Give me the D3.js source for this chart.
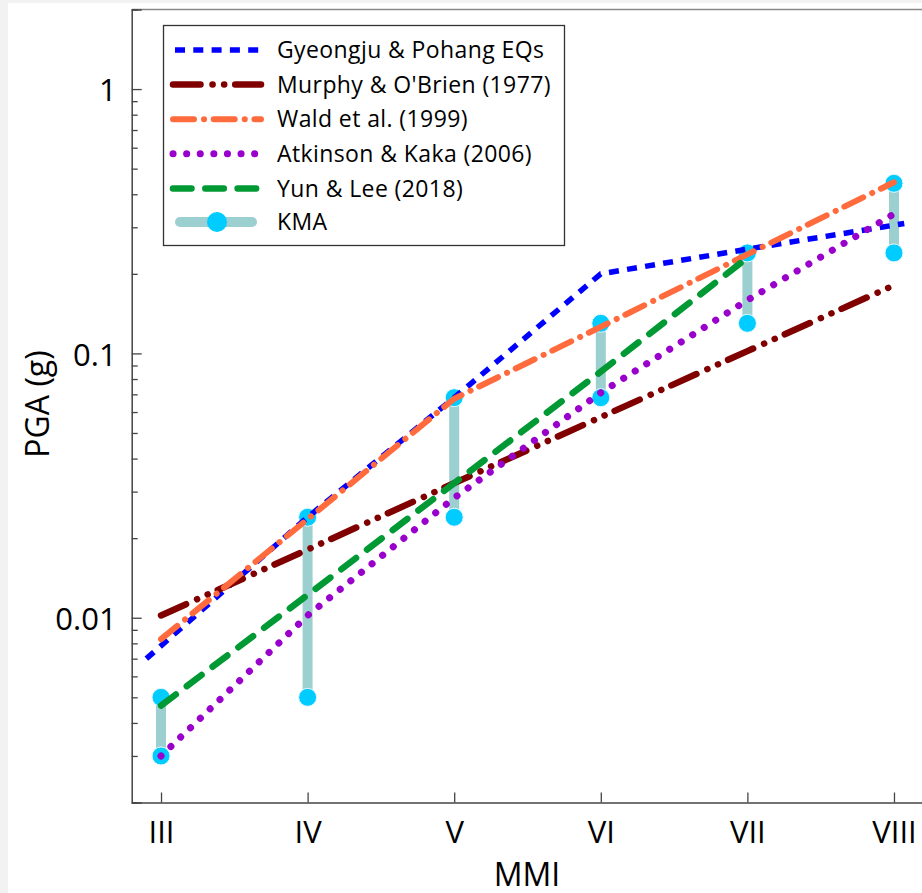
<!DOCTYPE html>
<html>
<head>
<meta charset="utf-8">
<script src="https://cdn.jsdelivr.net/npm/d3@7"></script>
<style>
  body { margin: 0; background: #f2f2f2; }
  text { font-family: "Open Sans", "Noto Sans", sans-serif; fill: #000; }
</style>
</head>
<body>
<div id="chart"></div>
<script>
// MMI categories
const mmiLabels = ["III", "IV", "V", "VI", "VII", "VIII"];
const mmiValues = [3, 4, 5, 6, 7, 8];

// PGA (g)
const gyeongjuMMI = [2.9, 4, 5, 6, 7, 8.07];
const gyeongjuPGA = [0.0070, 0.024, 0.068, 0.20, 0.248, 0.31];
const murphyPGA   = [0.0102, 0.0181, 0.0323, 0.0574, 0.102, 0.181];
const waldPGA     = [0.0083, 0.0236, 0.0674, 0.126, 0.237, 0.444];
const atkinsonPGA = [0.0030, 0.0102, 0.0284, 0.071, 0.159, 0.337];
const yunMMI      = [3, 4, 5, 6, 7];
const yunPGA      = [0.00465, 0.0122, 0.0323, 0.0853, 0.23];
// KMA ranges, lower and upper bound per MMI
const kmaLow  = [0.003, 0.005, 0.024, 0.068, 0.13, 0.24];
const kmaHigh = [0.005, 0.024, 0.068, 0.13, 0.24, 0.44];

const yMajor = [0.01, 0.1, 1];

const W = 922, H = 893;

const svg = d3.select("#chart")
  .append("svg")
  .attr("width", W)
  .attr("height", H);

// white sheet, light grey edge left/top like the screenshot
svg.append("rect").attr("width", W).attr("height", H).attr("fill", "#f2f2f2");
svg.append("rect").attr("x", 8).attr("y", 3).attr("width", W - 8).attr("height", H - 3).attr("fill", "#fff");

const x = d3.scaleLinear()
  .domain([2.8, 8.2])
  .range([131.7, 923.3]);

const y = d3.scaleLog()
  .domain([0.002, 2])
  .range([802.5, 9.5]);

// minor ticks 2..9 x 10^k
const minor = [];
[0.001, 0.01, 0.1, 1].forEach(p => {
  for (let k = 2; k <= 9; k++) {
    const v = +(k * p).toPrecision(3);
    if (v >= 0.002 && v <= 2) minor.push(v);
  }
});

// top frame line
svg.append("line")
  .attr("x1", x.range()[0]).attr("x2", W)
  .attr("y1", y(2)).attr("y2", y(2))
  .attr("stroke", "#888").attr("stroke-width", 1.5);

// axes
const yAxis = svg.append("g")
  .attr("transform", `translate(${x.range()[0]},0)`)
  .call(d3.axisLeft(y).tickValues(yMajor).tickSize(-10).tickPadding(15)
        .tickFormat(d => String(d)));
yAxis.selectAll("text").attr("font-size", 31).attr("dy", "0.38em");

svg.append("g")
  .attr("transform", `translate(${x.range()[0]},0)`)
  .call(d3.axisLeft(y).tickValues(minor).tickSize(-6).tickFormat(""))
  .select(".domain").remove();

const xAxis = svg.append("g")
  .attr("transform", `translate(0,${y.range()[0]})`)
  .call(d3.axisBottom(x).tickValues(mmiValues).tickSize(-10).tickSizeOuter(0).tickPadding(18)
        .tickFormat((d, i) => mmiLabels[i]));
xAxis.selectAll("text").attr("font-size", 31);

svg.selectAll(".domain").attr("stroke", "#444").attr("stroke-width", 1.5);
svg.selectAll(".tick line").attr("stroke", "#444").attr("stroke-width", 1.3);

// axis titles
svg.append("text")
  .attr("x", 527).attr("y", 886)
  .attr("text-anchor", "middle")
  .attr("font-size", 32)
  .text("MMI");

svg.append("text")
  .attr("transform", "translate(49,404) rotate(-90)")
  .attr("text-anchor", "middle")
  .attr("font-size", 32)
  .text("PGA (g)");

// KMA bars and circles
const kmaBar = "#9ccfcf", kmaDot = "#00ccff";
svg.append("g")
  .selectAll("line")
  .data(mmiValues)
  .join("line")
    .attr("x1", d => x(d)).attr("x2", d => x(d))
    .attr("y1", (d, i) => y(kmaLow[i]))
    .attr("y2", (d, i) => y(kmaHigh[i]))
    .attr("stroke", kmaBar)
    .attr("stroke-width", 10);

const kmaPts = [];
mmiValues.forEach((m, i) => {
  kmaPts.push({m: m, v: kmaLow[i]});
  kmaPts.push({m: m, v: kmaHigh[i]});
});
svg.append("g")
  .selectAll("circle")
  .data(kmaPts)
  .join("circle")
    .attr("cx", d => x(d.m))
    .attr("cy", d => y(d.v))
    .attr("r", 9)
    .attr("fill", kmaDot)
    .attr("stroke", "#e8f8ff")
    .attr("stroke-width", 1);

// model lines
const series = [
  {name: "Gyeongju & Pohang EQs", mmi: gyeongjuMMI, pga: gyeongjuPGA, color: "#0000ff", width: 5.5, dash: "10,8.3", cap: "butt"},
  {name: "Murphy & O'Brien (1977)", mmi: mmiValues, pga: murphyPGA, color: "#800000", width: 6.5, dash: "27.5,12,0.1,11.5,0.1,11", cap: "round"},
  {name: "Wald et al. (1999)", mmi: mmiValues, pga: waldPGA, color: "#ff6b3d", width: 6, dash: "21,10,0.1,9.6", cap: "round"},
  {name: "Atkinson & Kaka (2006)", mmi: mmiValues, pga: atkinsonPGA, color: "#9900cc", width: 7, dash: "0.1,13.5", cap: "round"},
  {name: "Yun & Lee (2018)", mmi: yunMMI, pga: yunPGA, color: "#009933", width: 6.5, dash: "18.5,13.8", cap: "round"}
];

const line = d3.line()
  .x(d => x(d[0]))
  .y(d => y(d[1]));

svg.append("g")
  .selectAll("path")
  .data(series)
  .join("path")
    .attr("d", s => line(s.mmi.map((m, i) => [m, s.pga[i]])))
    .attr("fill", "none")
    .attr("stroke", s => s.color)
    .attr("stroke-width", s => s.width)
    .attr("stroke-dasharray", s => s.dash)
    .attr("stroke-linecap", s => s.cap)
    .attr("stroke-linejoin", "round");

// legend
const lg = svg.append("g");
lg.append("rect")
  .attr("x", 163.5).attr("y", 25.5)
  .attr("width", 401).attr("height", 220)
  .attr("fill", "#fff")
  .attr("stroke", "#333")
  .attr("stroke-width", 1.3);

const rowY = i => 50 + i * 34.6;

series.forEach((s, i) => {
  const x0 = s.cap === "round" ? 173 : 175;
  lg.append("line")
    .attr("x1", x0).attr("x2", 261)
    .attr("y1", rowY(i)).attr("y2", rowY(i))
    .attr("stroke", s.color)
    .attr("stroke-width", s.width)
    .attr("stroke-dasharray", s.dash)
    .attr("stroke-linecap", s.cap);
  lg.append("text")
    .attr("x", 277).attr("y", rowY(i))
    .attr("dy", "0.36em")
    .attr("font-size", 23)
    .attr("letter-spacing", 0.4)
    .text(s.name);
});

// KMA legend entry
const ky = rowY(5) - 1;
lg.append("line")
  .attr("x1", 180).attr("x2", 252)
  .attr("y1", ky).attr("y2", ky)
  .attr("stroke", kmaBar).attr("stroke-width", 10)
  .attr("stroke-linecap", "round");
lg.append("circle")
  .attr("cx", 217).attr("cy", ky).attr("r", 10)
  .attr("fill", kmaDot);
lg.append("text")
  .attr("x", 277).attr("y", ky)
  .attr("dy", "0.36em")
  .attr("font-size", 23)
  .attr("letter-spacing", 0.4)
  .text("KMA");
</script>
</body>
</html>
